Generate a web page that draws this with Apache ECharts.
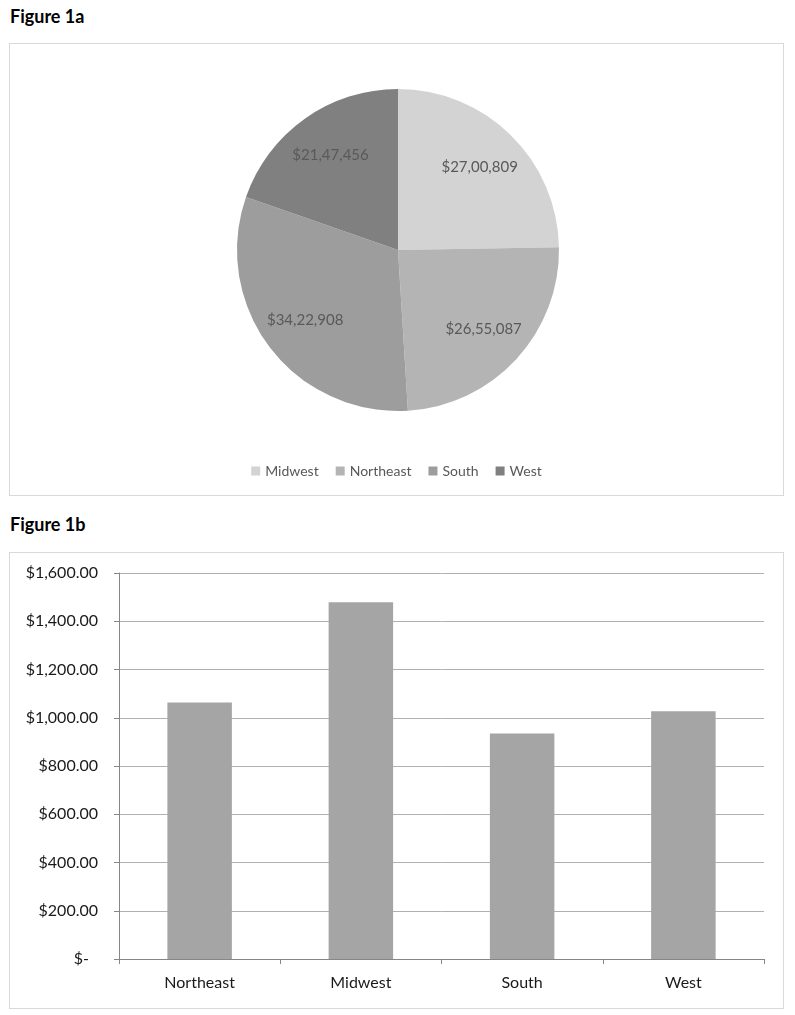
<!DOCTYPE html>
<html>
<head>
<meta charset="utf-8">
<script src="https://cdn.jsdelivr.net/npm/echarts@6/dist/echarts.min.js"></script>
<style>
    body { margin: 0; background: #fff; font-family: Lato, "Noto Sans", sans-serif; }
    .title { position: absolute; left: 10px; font-weight: bold; font-size: 18px; color: #000; }
    .box { position: absolute; left: 9px; width: 775px; border: 1px solid #d9d9d9; box-sizing: border-box; }
</style>
</head>
<body>
<div class="title" style="top:5px">Figure 1a</div>
<div id="pie" class="box" style="top:43px;height:453px"></div>
<div class="title" style="top:513px">Figure 1b</div>
<div id="bar" class="box" style="top:552px;height:457px"></div>
<script>
// 各地区合计（饼图）
const pieNames = ['Midwest', 'Northeast', 'South', 'West'];
const pieValues = [2700809, 2655087, 3422908, 2147456];
const pieLabels = ['$27,00,809', '$26,55,087', '$34,22,908', '$21,47,456'];
const pieColors = ['#d3d3d3', '#b4b4b4', '#9d9d9d', '#808080'];

// 各地区平均（柱状图）
const barCategories = ['Northeast', 'Midwest', 'South', 'West'];
const barValues = [1063, 1479, 935, 1027];
const yTicks = [0, 200, 400, 600, 800, 1000, 1200, 1400, 1600];

const font = 'Lato, "Noto Sans", sans-serif';

let pieData = pieNames.map((name, i) => {
    return {name: name, value: pieValues[i], itemStyle: {color: pieColors[i]}};
});

const pieChart = echarts.init(document.getElementById('pie'));
pieChart.setOption({
    animation: false,
    legend: {
        bottom: 12,
        left: 'center',
        data: pieNames,
        icon: 'rect',
        itemWidth: 9,
        itemHeight: 9,
        itemGap: 17,
        textStyle: {fontFamily: font, fontSize: 14, color: '#595959'}
    },
    series: [
        {
            name: 'total',
            type: 'pie',
            center: [388, 206],
            radius: [0, 161],
            startAngle: 90,
            clockwise: true,
            label: {show: false},
            labelLine: {show: false},
            emphasis: {disabled: true},
            data: pieData
        },
        {
            // 透明层，只用来放数值标签
            name: 'labels',
            type: 'pie',
            center: [388, 206],
            radius: [66, 161],
            startAngle: 90,
            clockwise: true,
            silent: true,
            legendHoverLink: false,
            itemStyle: {color: 'rgba(0,0,0,0)'},
            label: {
                show: true,
                position: 'inside',
                fontFamily: font,
                fontSize: 15,
                color: '#595959',
                formatter: (p) => pieLabels[p.dataIndex]
            },
            labelLine: {show: false},
            data: pieNames.map((name, i) => ({name: name, value: pieValues[i], itemStyle: {color: 'rgba(0,0,0,0)'}}))
        }
    ]
});

function money(v) {
    if (v === 0) return '{z|$-}';
    return '$' + v.toLocaleString('en-US', {minimumFractionDigits: 2, maximumFractionDigits: 2});
}

const barChart = echarts.init(document.getElementById('bar'));
barChart.setOption({
    animation: false,
    grid: {left: 109, right: 19, top: 20, bottom: 49},
    xAxis: {
        type: 'category',
        data: barCategories,
        axisLine: {lineStyle: {color: '#868686'}},
        axisTick: {show: true, length: 5, lineStyle: {color: '#868686'}},
        axisLabel: {fontFamily: font, fontSize: 16, color: '#1a1a1a', margin: 16}
    },
    yAxis: {
        type: 'value',
        min: yTicks[0],
        max: yTicks[yTicks.length - 1],
        interval: 200,
        axisLine: {show: true, lineStyle: {color: '#868686'}},
        axisTick: {show: true, length: 5, lineStyle: {color: '#868686'}},
        splitLine: {lineStyle: {color: '#b0b0b0'}},
        axisLabel: {
            fontFamily: font,
            fontSize: 16,
            color: '#1a1a1a',
            margin: 21,
            formatter: money,
            rich: {z: {fontFamily: font, fontSize: 16, color: '#1a1a1a', padding: [0, 9, 0, 0]}}
        }
    },
    series: [{
        type: 'bar',
        data: barValues,
        barWidth: '40%',
        itemStyle: {color: '#a5a5a5'}
    }]
});
</script>
</body>
</html>
